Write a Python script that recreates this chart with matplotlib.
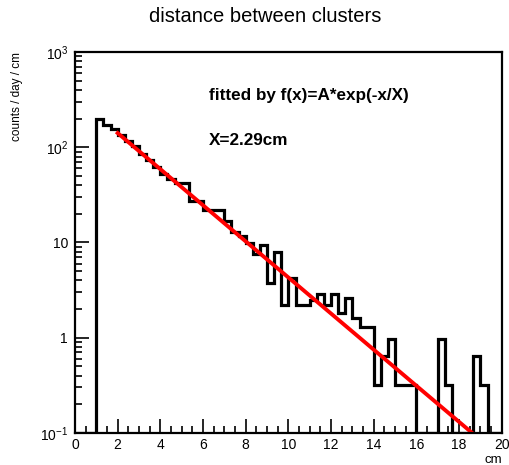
import numpy as np
import matplotlib
matplotlib.use("Agg")
import matplotlib.pyplot as plt
from matplotlib.ticker import FixedLocator, FixedFormatter, MultipleLocator, NullFormatter

plt.rcParams['font.family'] = ['Liberation Sans', 'DejaVu Sans']
plt.rcParams['mathtext.default'] = 'regular'

# histogram: 60 bins of 1/3 cm between 0 and 20 cm (counts / day / cm)
x_min, x_max, n_bins = 0.0, 20.0, 60
counts = [
    0, 0, 0, 197, 170, 157, 134, 116, 102, 86,
    74, 62, 52, 46, 42, 42, 27, 27, 22, 22,
    22, 17, 12.8, 11.8, 9.8, 7.6, 9.3, 3.8, 7.9, 2.2,
    4.2, 2.2, 2.2, 2.5, 2.9, 2.2, 2.9, 1.8, 2.6, 1.62,
    1.29, 1.29, 0.32, 0.65, 0.97, 0.32, 0.32, 0.32, 0, 0,
    0, 0.97, 0.32, 0, 0, 0, 0.65, 0.32, 0, 0,
]

# exponential fit f(x) = A*exp(-x/X)
fit_A = 338.0
fit_X = 2.29
fit_range = (2.0, 20.0)

y_ticks = [0.1, 1, 10, 100, 1000]
y_ticklabels = ['$10^{-1}$', '1', '10', '$10^{2}$', '$10^{3}$']
x_ticks = list(range(0, 21, 2))

fig = plt.figure(figsize=(5.1, 4.65), dpi=100)
ax = fig.add_axes([0.147, 0.069, 0.837, 0.819])

edges = np.linspace(x_min, x_max, n_bins + 1)
vals = np.array(counts, dtype=float)
y_lo = y_ticks[0]
vals = np.where(vals > 0, vals, y_lo)
ax.stairs(vals, edges, baseline=y_lo, color='black', lw=2.3)

xf = np.linspace(fit_range[0], fit_range[1], 400)
ax.plot(xf, fit_A * np.exp(-xf / fit_X), color='#ff0000', lw=2.8)

ax.set_yscale('log')
ax.set_xlim(x_min, x_max)
ax.set_ylim(y_ticks[0], y_ticks[-1])

ax.yaxis.set_major_locator(FixedLocator(y_ticks))
ax.yaxis.set_major_formatter(FixedFormatter(y_ticklabels))
minor = [m * 10.0 ** e for e in range(-1, 3) for m in range(2, 10)]
ax.yaxis.set_minor_locator(FixedLocator(minor))
ax.yaxis.set_minor_formatter(NullFormatter())
ax.xaxis.set_major_locator(FixedLocator(x_ticks))
ax.xaxis.set_minor_locator(MultipleLocator(0.5))

ax.tick_params(which='both', direction='in', top=False, right=False, labelsize=10)
ax.tick_params(axis='x', pad=4)
ax.tick_params(axis='y', pad=5)
ax.tick_params(which='major', length=10, width=1.2)
ax.tick_params(which='minor', length=5, width=1.2)
for s in ax.spines.values():
    s.set_linewidth(1.6)

fig.text(0.52, 0.965, 'distance between clusters', ha='center', va='center', fontsize=14.5)
ax.set_ylabel('counts / day / cm', fontsize=8.5, loc='top')
ax.yaxis.set_label_coords(-0.122, 1.0)
ax.set_xlabel('cm', fontsize=9.5, loc='right', labelpad=1)

ax.text(0.313, 0.886, 'fitted by f(x)=A*exp(-x/X)', transform=ax.transAxes,
        fontsize=12.3, fontweight='bold', va='center')
ax.text(0.313, 0.767, 'X=2.29cm', transform=ax.transAxes,
        fontsize=12.3, fontweight='bold', va='center')

fig.savefig('out.png', dpi=100)
